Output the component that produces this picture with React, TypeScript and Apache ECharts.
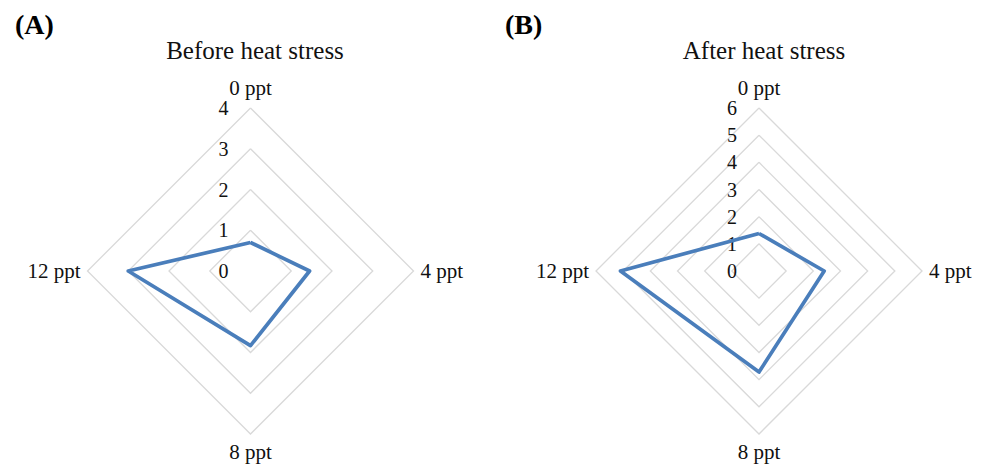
import React, { useEffect, useRef } from "react";
import * as echarts from "echarts";

const categories = ["0 ppt", "4 ppt", "8 ppt", "12 ppt"];
const beforeValues = [0.7, 1.45, 1.83, 3.0];
const afterValues = [1.38, 2.4, 3.72, 5.1];
const beforeMax = 4;
const afterMax = 6;
const panelLabels = ["(A)", "(B)"];
const panelTitles = ["Before heat stress", "After heat stress"];

// ECharts places indicators counter-clockwise; display order: top, left, bottom, right
const displayOrder = [0, 3, 2, 1];

const FONT = "'Liberation Serif', 'Times New Roman', serif";
const LINE_COLOR = "#4a7ebb";

function buildRadar(center: [string | number, string | number], max: number) {
  return {
    center,
    radius: 163,
    shape: "polygon",
    startAngle: 90,
    splitNumber: max,
    indicator: displayOrder.map((i, k) => ({
      name: categories[i],
      min: 0,
      max,
      ...(k === 0
        ? {
            axisLabel: {
              show: true,
              showMinLabel: true,
              showMaxLabel: true,
            },
          }
        : {}),
    })),
    axisName: { color: "#111", fontFamily: FONT, fontSize: 21 },
    nameGap: 7,
    axisLine: { show: false },
    axisTick: { show: false },
    axisLabel: {
      show: false,
      color: "#111",
      fontFamily: FONT,
      fontSize: 20,
      margin: 22,
    },
    splitLine: { lineStyle: { color: "#d9d9d9", width: 1.3 } },
    splitArea: { show: false },
  };
}

export default function App() {
  const ref = useRef<HTMLDivElement>(null);
  useEffect(() => {
    document.body.style.margin = "0";
    if (!ref.current) return;
    const chart = echarts.init(ref.current, null, { renderer: "svg" });
    chart.setOption({
      animation: false,
      backgroundColor: "#fff",
      title: [
        {
          text: panelLabels[0],
          left: 10,
          top: 5,
          textStyle: { fontFamily: FONT, fontSize: 28, fontWeight: "bold", color: "#000" },
        },
        {
          text: panelLabels[1],
          left: 500,
          top: 5,
          textStyle: { fontFamily: FONT, fontSize: 28, fontWeight: "bold", color: "#000" },
        },
        {
          text: panelTitles[0],
          left: 250,
          top: 33,
          textAlign: "center",
          textStyle: { fontFamily: FONT, fontSize: 25, fontWeight: "normal", color: "#111" },
        },
        {
          text: panelTitles[1],
          left: 759,
          top: 33,
          textAlign: "center",
          textStyle: { fontFamily: FONT, fontSize: 25, fontWeight: "normal", color: "#111" },
        },
      ],
      radar: [buildRadar([250.5, 271], beforeMax), buildRadar([759, 271], afterMax)],
      series: [
        {
          type: "radar",
          radarIndex: 0,
          symbol: "none",
          lineStyle: { color: LINE_COLOR, width: 3.7 },
          data: [{ value: displayOrder.map((i) => beforeValues[i]), name: panelTitles[0] }],
        },
        {
          type: "radar",
          radarIndex: 1,
          symbol: "none",
          lineStyle: { color: LINE_COLOR, width: 3.7 },
          data: [{ value: displayOrder.map((i) => afterValues[i]), name: panelTitles[1] }],
        },
      ],
    });
    return () => chart.dispose();
  }, []);
  return <div ref={ref} style={{ width: 986, height: 468 }} />;
}
